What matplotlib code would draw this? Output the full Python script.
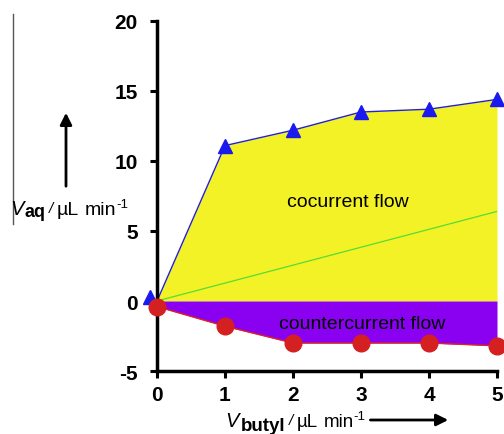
import numpy as np
import matplotlib
matplotlib.use("Agg")
from matplotlib import pyplot as plt
from matplotlib.lines import Line2D
from matplotlib.patches import FancyArrowPatch

plt.rcParams['font.family'] = ['Liberation Sans', 'DejaVu Sans']
plt.rcParams['axes.unicode_minus'] = False

# flow rates
v_butyl = [0, 1, 2, 3, 4, 5]
v_aq_cocurrent = [0, 11.1, 12.2, 13.5, 13.7, 14.4]
v_aq_counter = [-0.4, -1.8, -3.0, -3.0, -3.0, -3.2]
# the first triangle sits a little off the origin in the figure
tri_x = [-0.1, 1, 2, 3, 4, 5]
tri_y = [0.3, 11.1, 12.2, 13.5, 13.7, 14.4]
green_x = [0, 5]
green_y = [0, 6.4]

yellow = '#f2f226'
purple = '#8a00f0'

W, H = 504, 435
fig = plt.figure(figsize=(W / 100, H / 100), dpi=100)
ax = fig.add_axes([157 / W, 1 - 372 / H, (497 - 157) / W, (372 - 22) / H])

ax.fill_between(v_butyl, 0, v_aq_cocurrent, color=yellow, lw=0, zorder=1)
ax.fill_between(v_butyl, 0, v_aq_counter, color=purple, lw=0, zorder=1)
ax.plot(green_x, green_y, color='#55dd33', lw=0.9, zorder=2)
ax.plot(v_butyl, v_aq_cocurrent, color='#2222cc', lw=1.0, zorder=2.2)
ax.plot(v_butyl, v_aq_counter, color='#dd2222', lw=1.0, zorder=2.2)
ax.plot(tri_x, tri_y, ls='none', marker='^', ms=10.5,
        color='#1a1aee', clip_on=False, zorder=2.4)
ax.plot(v_butyl, v_aq_counter, ls='none', marker='o', ms=12,
        color='#d42020', clip_on=False, zorder=5)

ax.text(2.8, 7.1, 'cocurrent flow', ha='center', va='center', fontsize=14)
ax.text(3.02, -1.6, 'countercurrent flow', ha='center', va='center', fontsize=14)

ax.set_xlim(0, 5)
ax.set_ylim(-5, 20)
ax.set_xticks(range(0, 6))
ax.set_yticks(range(-5, 21, 5))
for lab in ax.get_xticklabels() + ax.get_yticklabels():
    lab.set_fontweight('bold')
    lab.set_fontsize(15)
ax.tick_params(direction='out', length=5, width=2.2)
ax.tick_params(axis='y', pad=9)
ax.tick_params(axis='x', pad=5)
ax.spines['top'].set_visible(False)
ax.spines['right'].set_visible(False)
ax.spines['left'].set_linewidth(2.5)
ax.spines['bottom'].set_linewidth(2.5)
ax.patch.set_alpha(0)

renderer = fig.canvas.get_renderer()


def put_pieces(x0, y0, pieces):
    # lay text pieces one after another, x0 / y0 are pixels from top-left
    x = x0
    for txt, size, style, weight, dx, dy in pieces:
        x += dx
        t = fig.text(x / W, 1 - (y0 + dy) / H, txt, ha='left', va='baseline',
                     fontsize=size, style=style, fontweight=weight)
        bb = t.get_window_extent(renderer)
        x += bb.width
    return x


put_pieces(10, 215, [('V', 14.5, 'italic', 'normal', 0, 0),
                     ('aq', 13, 'normal', 'bold', 1, 2),
                     ('/', 11, 'italic', 'normal', 3, -2),
                     ('µL', 14, 'normal', 'normal', 4, 0),
                     ('min', 14, 'normal', 'normal', 6, 0),
                     ('-1', 9.5, 'normal', 'normal', 0, -7)])
end_x = put_pieces(225, 427, [('V', 14.5, 'italic', 'normal', 0, 0),
                              ('butyl', 13.5, 'normal', 'bold', 2, 4),
                              ('/', 11, 'italic', 'normal', 4, -2),
                              ('µL', 13.5, 'normal', 'normal', 3, 0),
                              ('min', 13.5, 'normal', 'normal', 6, 0),
                              ('-1', 9.5, 'normal', 'normal', 0, -7)])

fig.add_artist(FancyArrowPatch(
    (66 / W, 1 - 190 / H), (66 / W, 1 - 111 / H), transform=fig.transFigure,
    arrowstyle='-|>,head_length=7,head_width=3.5', lw=2, color='black'))
fig.add_artist(FancyArrowPatch(
    ((end_x + 2) / W, 1 - 421 / H), (451 / W, 1 - 421 / H), transform=fig.transFigure,
    arrowstyle='-|>,head_length=7,head_width=3.5', lw=2, color='black'))
fig.add_artist(Line2D([13 / W, 13 / W], [1 - 15 / H, 1 - 225 / H],
                      transform=fig.transFigure, color='#555555', lw=1))

fig.savefig('out.png', dpi=100)
